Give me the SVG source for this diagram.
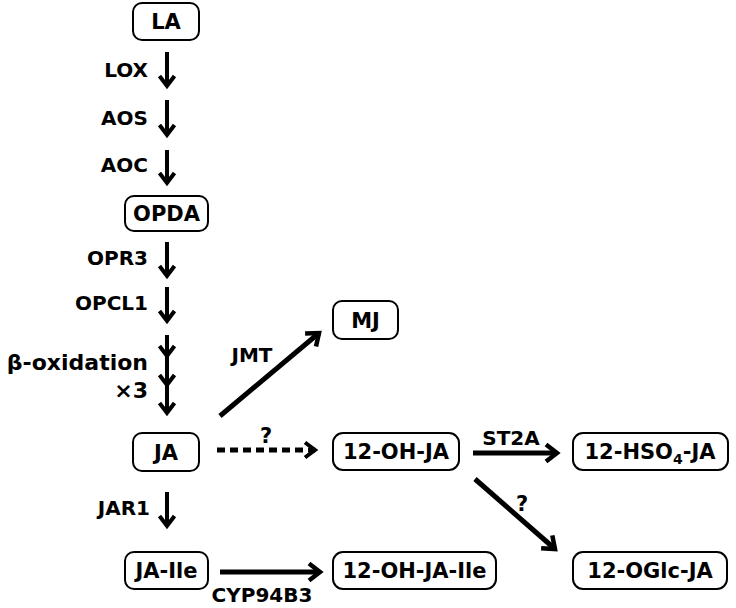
<svg xmlns="http://www.w3.org/2000/svg" width="736" height="608" viewBox="0 0 736 608">
<defs>
<marker id="ah" markerUnits="userSpaceOnUse" viewBox="-16 -14 24 28" refX="0" refY="0" markerWidth="24" markerHeight="28" orient="auto" overflow="visible">
<path d="M-11,-8.5 L0,0 L-11,8.5" fill="none" stroke="#000" stroke-width="4.5" stroke-linejoin="miter"/>
</marker>
<marker id="ahs" markerUnits="userSpaceOnUse" viewBox="-16 -14 24 28" refX="0" refY="0" markerWidth="24" markerHeight="28" orient="auto" overflow="visible">
<path d="M-10,-7.5 L0,0 L-10,7.5" fill="none" stroke="#000" stroke-width="4" stroke-linejoin="miter"/>
</marker>
</defs>
<style>
.box{fill:#fff;stroke:#000;stroke-width:2}
.nt{font-family:"DejaVu Sans","Liberation Sans",sans-serif;font-weight:bold;font-size:21px;text-anchor:middle;fill:#000}
.lb{font-family:"DejaVu Sans","Liberation Sans",sans-serif;font-weight:bold;font-size:20px;fill:#000}
.v{fill:none;stroke:#000;stroke-width:4;marker-end:url(#ahs)}
.a{fill:none;stroke:#000;stroke-width:5;marker-end:url(#ah)}
</style>
<rect width="736" height="608" fill="#fff"/>
<g id="connectors">
<path class="v" d="M167,52 L167,86"/>
<path class="v" d="M167,100 L167,135"/>
<path class="v" d="M167,150 L167,183"/>
<path class="v" d="M167,242 L167,276"/>
<path class="v" d="M167,287 L167,321"/>
<path class="v" d="M167,335 L167,356 L167,385 L167,413" style="marker-mid:url(#ahs)"/>
<path class="v" d="M167,492 L167,526"/>
<path class="a" d="M220,416 L319,333"/>
<path class="a" d="M217,450 L315,450" stroke-dasharray="8,5" style="marker-end:url(#ahs)"/>
<path class="a" d="M473,453 L557,453"/>
<path class="a" d="M475,479 L555,549"/>
<path class="a" d="M220,572 L320,572"/>
<text class="lb" x="148" y="77" text-anchor="end">LOX</text>
<text class="lb" x="148" y="125" text-anchor="end">AOS</text>
<text class="lb" x="148" y="172" text-anchor="end">AOC</text>
<text class="lb" x="148" y="265" text-anchor="end">OPR3</text>
<text class="lb" x="148" y="310" text-anchor="end">OPCL1</text>
<text class="lb" x="148" y="370" text-anchor="end" style="font-size:22px">β-oxidation</text>
<text class="lb" x="148" y="398" text-anchor="end" style="font-size:22px">×3</text>
<text class="lb" x="150" y="515" text-anchor="end">JAR1</text>
<text class="lb" x="252" y="362" text-anchor="middle">JMT</text>
<text class="lb" x="266" y="443" text-anchor="middle" style="font-size:21px">?</text>
<text class="lb" x="511" y="445" text-anchor="middle">ST2A</text>
<text class="lb" x="522" y="511" text-anchor="middle" style="font-size:21px">?</text>
<text class="lb" x="262" y="602" text-anchor="middle">CYP94B3</text>
</g>
<g id="LA"><rect class="box" x="133" y="3" width="66" height="37" rx="9"/><text class="nt" x="166" y="29">LA</text></g>
<g id="OPDA"><rect class="box" x="125" y="196" width="83" height="35" rx="9"/><text class="nt" x="166.5" y="221">OPDA</text></g>
<g id="MJ"><rect class="box" x="333" y="301" width="65" height="38" rx="9"/><text class="nt" x="365.5" y="327.5">MJ</text></g>
<g id="JA"><rect class="box" x="133" y="433" width="66" height="38" rx="9"/><text class="nt" x="166" y="459.5">JA</text></g>
<g id="OHJA"><rect class="box" x="333" y="433" width="126" height="37" rx="10"/><text class="nt" x="396" y="459">12-OH-JA</text></g>
<g id="HSO4JA"><rect class="box" x="573" y="433" width="155" height="37" rx="10"/><text class="nt" x="650" y="459">12-HSO<tspan font-size="14" dy="5">4</tspan><tspan dy="-5">-JA</tspan></text></g>
<g id="JAIle"><rect class="box" x="125" y="552" width="83" height="37" rx="9"/><text class="nt" x="166.5" y="578">JA-Ile</text></g>
<g id="OHJAIle"><rect class="box" x="333" y="552" width="163" height="37" rx="10"/><text class="nt" x="414.5" y="578">12-OH-JA-Ile</text></g>
<g id="OGlcJA"><rect class="box" x="573" y="552" width="154" height="37" rx="10"/><text class="nt" x="650" y="578">12-OGlc-JA</text></g>
</svg>
